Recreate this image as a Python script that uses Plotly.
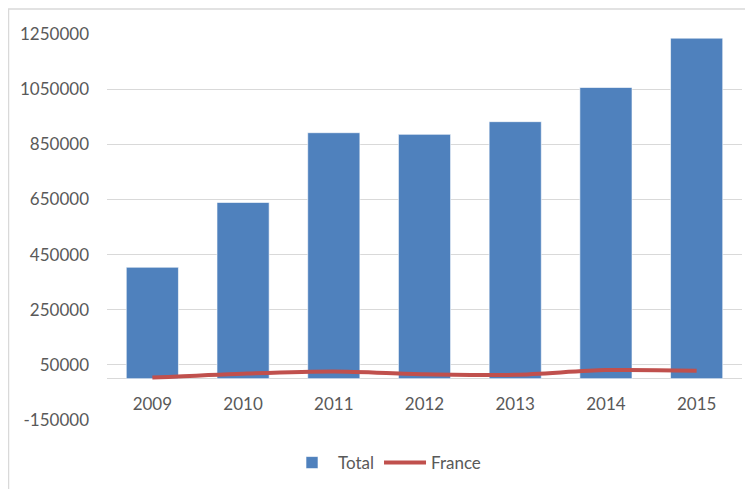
import plotly.graph_objects as go

years = ["2009", "2010", "2011", "2012", "2013", "2014", "2015"]
total = [404000, 639000, 892000, 886000, 932000, 1056000, 1235000]
france = [4000, 18000, 26000, 16000, 14000, 31000, 29000]
y_ticks = [-150000, 50000, 250000, 450000, 650000, 850000, 1050000, 1250000]

# the page adds an 8px body margin, so the figure is drawn from (8, 8)
OFF = 8
W, H = 753 - OFF, 489 - OFF
L, R, T, B = 107 - OFF, 11, 34 - OFF, 69
ph = H - T - B
pw = W - L - R
ymin, ymax = -150000, 1250000
zero_frac = (0 - ymin) / (ymax - ymin)

font = dict(family="Lato, 'Liberation Sans', sans-serif", size=17, color="#595959")

fig = go.Figure()
fig.add_trace(go.Bar(
    x=years, y=total, name="Total",
    marker=dict(color="#4F81BD", line=dict(color="rgba(255,255,255,0.6)", width=1)),
))
fig.add_trace(go.Scatter(
    x=years, y=france, name="France", mode="lines",
    line=dict(color="#C0504D", width=4, shape="spline", smoothing=0.8),
))

fig.update_layout(
    width=W, height=H,
    margin=dict(l=L, r=R, t=T, b=B, autoexpand=False),
    paper_bgcolor="white", plot_bgcolor="white",
    font=font,
    bargap=0.425,
    showlegend=True,
    legend=dict(orientation="h", x=(286 - 107) / pw, xanchor="left",
                y=(420 - 463) / ph, yanchor="middle",
                font=font, itemwidth=42, traceorder="normal"),
    xaxis=dict(anchor="free", position=zero_frac, showline=False, showgrid=False,
               ticks="", ticklabelstandoff=13, tickfont=font, automargin=False),
    yaxis=dict(range=[ymin, ymax], tickvals=y_ticks, ticktext=[str(v) for v in y_ticks],
               showgrid=True, gridcolor="#D9D9D9", gridwidth=1,
               zeroline=True, zerolinecolor="#D9D9D9", zerolinewidth=1,
               showline=False, ticks="", ticklabelstandoff=17, tickfont=font, automargin=False),
    shapes=[dict(type="rect", xref="paper", yref="paper",
                 x0=(8.5 - 107) / pw, x1=(770 - 107) / pw,
                 y0=(420 - 500) / ph, y1=(420 - 9) / ph,
                 line=dict(color="#D9D9D9", width=1.5), fillcolor="rgba(0,0,0,0)", layer="below")],
)

fig.write_html("out.html")
